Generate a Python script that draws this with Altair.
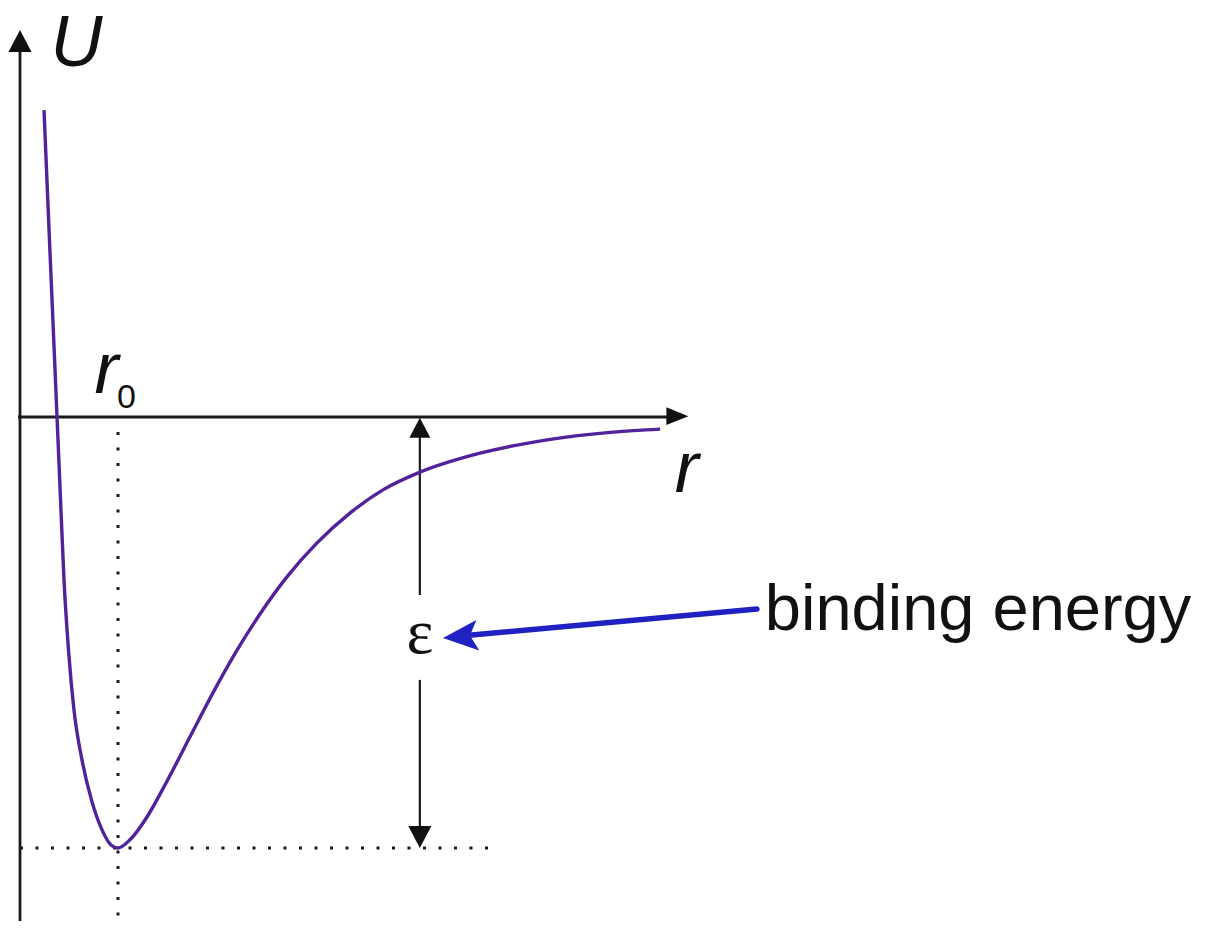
import altair as alt
import pandas as pd

# ---- data (r in units of r0, U in units of epsilon) ----
curve_r = [0.245, 0.306, 0.378, 0.413, 0.449, 0.495, 0.551, 0.633, 0.730, 0.837,
           0.929, 1.000, 1.122, 1.296, 1.500, 1.735, 1.969, 2.204, 2.449, 2.724,
           3.031, 3.367, 3.704, 4.082, 4.694, 5.378, 6.051, 6.531]
curve_u = [0.712, 0.383, 0.000, -0.188, -0.378, -0.541, -0.680, -0.796, -0.889, -0.958,
           -0.993, -1.000, -0.981, -0.928, -0.845, -0.742, -0.640, -0.545, -0.457, -0.371,
           -0.292, -0.223, -0.169, -0.128, -0.084, -0.053, -0.035, -0.028]

r0 = 1.0
u_min = -1.0
eps_r = 4.08

W, H = 1215, 913
XD = [-0.1224, 12.2755]
YD = [-1.1694, 0.949]


def X(f):
    return alt.X(f, type="quantitative", scale=alt.Scale(domain=XD, nice=False, zero=False), axis=None)


def Y(f):
    return alt.Y(f, type="quantitative", scale=alt.Scale(domain=YD, nice=False, zero=False), axis=None)


curve_df = pd.DataFrame({"r": curve_r, "U": curve_u})

curve = alt.Chart(curve_df).mark_line(
    color="#52229a", strokeWidth=3.4, interpolate="monotone"
).encode(x=X("r"), y=Y("U"))

# axes lines
axes_df = pd.DataFrame({
    "x1": [-0.02, 0.0],
    "x2": [6.75, 0.0],
    "y1": [0.0, YD[0]],
    "y2": [0.0, 0.86],
})
axes = alt.Chart(axes_df).mark_rule(color="#1a1a1a", strokeWidth=2.8).encode(
    x=X("x1"), x2=alt.X2("x2"), y=Y("y1"), y2=alt.Y2("y2")
)

# dotted guides
dot_df = pd.DataFrame({
    "x1": [r0, 0.0],
    "x2": [r0, 4.88],
    "y1": [-0.035, u_min],
    "y2": [YD[0], u_min],
})
dots = alt.Chart(dot_df).mark_rule(
    color="#1a1a1a", strokeWidth=3, strokeDash=[3, 12.5]
).encode(x=X("x1"), x2=alt.X2("x2"), y=Y("y1"), y2=alt.Y2("y2"))

# epsilon double arrow shafts
eps_df = pd.DataFrame({
    "x1": [eps_r, eps_r],
    "x2": [eps_r, eps_r],
    "y1": [-0.04, -0.610],
    "y2": [-0.413, -0.955],
})
eps_lines = alt.Chart(eps_df).mark_rule(color="#1a1a1a", strokeWidth=2.2).encode(
    x=X("x1"), x2=alt.X2("x2"), y=Y("y1"), y2=alt.Y2("y2")
)

TRI_NARROW = "M0,0L-2,-0.8L-2,0.8Z"
TRI_WIDE = "M0,0L-2,-1.05L-2,1.05Z"

head_x = alt.Chart(pd.DataFrame({"r": [6.82], "U": [0.002]})).mark_point(
    shape=TRI_NARROW, filled=True, color="#111111", opacity=1, size=484, strokeWidth=0
).encode(x=X("r"), y=Y("U"))

head_y = alt.Chart(pd.DataFrame({"r": [0.0], "U": [0.898]})).mark_point(
    shape=TRI_WIDE, filled=True, color="#111111", opacity=1, size=484, strokeWidth=0, angle=270
).encode(x=X("r"), y=Y("U"))

head_eps_up = alt.Chart(pd.DataFrame({"r": [eps_r], "U": [-0.002]})).mark_point(
    shape=TRI_WIDE, filled=True, color="#111111", opacity=1, size=400, strokeWidth=0, angle=270
).encode(x=X("r"), y=Y("U"))

head_eps_down = alt.Chart(pd.DataFrame({"r": [eps_r], "U": [u_min]})).mark_point(
    shape=TRI_WIDE, filled=True, color="#111111", opacity=1, size=484, strokeWidth=0, angle=90
).encode(x=X("r"), y=Y("U"))

# blue pointer arrow
blue_df = pd.DataFrame({"x1": [7.52], "x2": [4.50], "y1": [-0.4455], "y2": [-0.508]})
blue_line = alt.Chart(blue_df).mark_rule(color="#1f22c0", strokeWidth=5.5, strokeCap="round").encode(
    x=X("x1"), x2=alt.X2("x2"), y=Y("y1"), y2=alt.Y2("y2")
)
blue_head = alt.Chart(pd.DataFrame({"r": [4.316], "U": [-0.513]})).mark_point(
    shape="M0,0L-2,-0.9L-1.55,0L-2,0.85Z", filled=True, color="#1f22c0", opacity=1,
    size=1225, strokeWidth=0, angle=174.7
).encode(x=X("r"), y=Y("U"))

# text labels
it_df = pd.DataFrame({
    "r": [0.31, 0.76, 6.68],
    "U": [0.814, 0.055, -0.174],
    "label": ["U", "r", "r"],
})
it_text = alt.Chart(it_df).mark_text(
    font="Liberation Sans", fontStyle="italic", fontSize=72, align="left",
    baseline="alphabetic", color="#111111"
).encode(x=X("r"), y=Y("U"), text="label:N")

sub_text = alt.Chart(pd.DataFrame({"r": [0.99], "U": [0.021], "label": ["0"]})).mark_text(
    font="Liberation Sans", fontSize=34, align="left", baseline="alphabetic", color="#111111"
).encode(x=X("r"), y=Y("U"), text="label:N")

eps_text = alt.Chart(pd.DataFrame({"r": [eps_r], "U": [-0.547], "label": ["ε"]})).mark_text(
    font="Liberation Serif", fontSize=64, align="center", baseline="alphabetic", color="#111111"
).encode(x=X("r"), y=Y("U"), text="label:N")

bind_text = alt.Chart(pd.DataFrame({"r": [7.60], "U": [-0.494], "label": ["binding energy"]})).mark_text(
    font="Liberation Sans", fontSize=65, align="left", baseline="alphabetic", color="#111111"
).encode(x=X("r"), y=Y("U"), text="label:N")

chart = alt.layer(
    dots, axes, eps_lines, curve, head_x, head_y, head_eps_up, head_eps_down,
    blue_line, blue_head, it_text, sub_text, eps_text, bind_text
).properties(
    width=W, height=H, padding=0, autosize=alt.AutoSizeParams(type="none"),
    background="white"
).configure_view(stroke=None)

chart.save("out.html", embed_options={"renderer": "svg", "actions": False})
